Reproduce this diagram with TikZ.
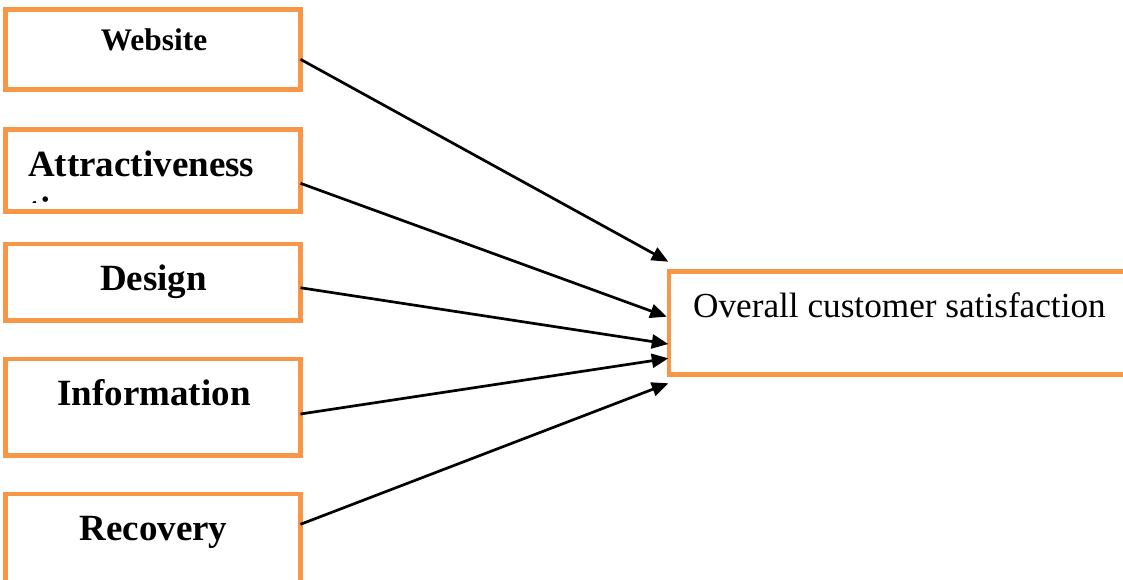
\documentclass[tikz,border=0pt]{standalone}
\usepackage{fontspec}
\setmainfont{Liberation Serif}
\usetikzlibrary{arrows.meta}
\definecolor{boxorange}{RGB}{247,150,70}
\begin{document}
\begin{tikzpicture}[x=1pt,y=-1pt,
  box/.style={draw=boxorange, line width=4.5pt, rectangle, inner sep=0pt, outer sep=0pt, fill=white},
  lbl/.style={anchor=base, inner sep=0pt, font=\bfseries\fontsize{37}{44}\selectfont},
  link/.style={line width=2.7pt, -{Triangle[length=16.5pt,width=14pt]}}]
\useasboundingbox[fill=white] (0,0) rectangle (1123,579);

% factor boxes on the left
\node[box, minimum width=295pt, minimum height=80pt]   (web) at (153,49.5)   {};
\node[box, minimum width=295pt, minimum height=82pt]   (att) at (153,170.5)  {};
\node[box, minimum width=295pt, minimum height=76.5pt] (des) at (153,282.25) {};
\node[box, minimum width=295pt, minimum height=96.5pt] (inf) at (153,407.25) {};
\node[box, minimum width=295pt, minimum height=100pt]  (rec) at (153,544)    {};
% outcome box on the right
\node[box, minimum width=470pt, minimum height=103pt]  (sat) at (904,323)    {};

% labels
\node[lbl, font=\bfseries\fontsize{31.4}{38}\selectfont] (webt) at (154,50.7) {Website};
\node[lbl, anchor=base west] (attt) at (28,176) {Attractiveness};
\begin{scope}
  % second line of the label, cut off by the box edge
  \clip (20,150) rectangle (290,202.5);
  \node[lbl, anchor=base west] (attu) at (28,222) {ti};
\end{scope}
\node[lbl] (dest) at (153.5,290) {Design};
\node[lbl] (inft) at (154,405) {Information};
\node[lbl] (rect) at (153.5,540) {Recovery};
\node[anchor=base west, inner sep=0pt, font=\fontsize{35.2}{42}\selectfont] (satt) at (693,317) {Overall customer satisfaction};

% connectors
\draw[link] ([yshift=-9.8pt]web.east)  -- ([xshift=-0.7pt,yshift=61.3pt]sat.west);
\draw[link] ([yshift=-12.8pt]att.east) -- ([xshift=-2.3pt,yshift=6.3pt]sat.west);
\draw[link] ([yshift=-5.5pt]des.east)  -- ([xshift=-0.7pt,yshift=-21pt]sat.west);
\draw[link] ([yshift=-6.75pt]inf.east) -- ([xshift=-0.7pt,yshift=-35.3pt]sat.west);
\draw[link] ([yshift=19.7pt]rec.east)  -- ([xshift=-0.7pt,yshift=-60.3pt]sat.west);
\end{tikzpicture}
\end{document}
